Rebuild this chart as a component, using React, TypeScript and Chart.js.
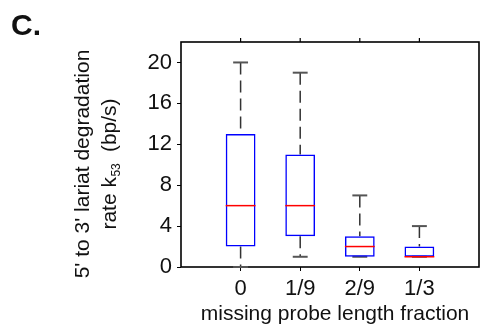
import React, { useEffect, useRef } from "react";
import { Chart, registerables } from "chart.js";

Chart.register(...registerables);

const categories = ["0", "1/9", "2/9", "1/3"];
const whiskerLow = [0, 1, 1, 1];
const q1 = [2, 3, 1, 1];
const median = [6, 6, 2, 1];
const q3 = [13, 11, 3, 2];
const whiskerHigh = [20, 19, 7, 4];
const yTicks = [0, 4, 8, 12, 16, 20];

const FONT = "'Liberation Sans', Arial, Helvetica, sans-serif";

const boxPlugin = {
  id: "boxExtras",
  beforeDatasetsDraw(chart: any) {
    const { ctx, chartArea: a, scales } = chart;
    const xs = scales.x;
    const ys = scales.y;
    ctx.save();
    // frame
    ctx.strokeStyle = "#000";
    ctx.lineWidth = 1.6;
    ctx.strokeRect(a.left, a.top, a.right - a.left, a.bottom - a.top);
    // top ticks
    ctx.lineWidth = 1.2;
    categories.forEach((_, i) => {
      const px = xs.getPixelForValue(i);
      ctx.beginPath();
      ctx.moveTo(px, a.top);
      ctx.lineTo(px, a.top - 4);
      ctx.stroke();
    });
    // whiskers
    ctx.strokeStyle = "#333";
    ctx.lineWidth = 1.5;
    ctx.setLineDash([12, 6]);
    categories.forEach((_, i) => {
      const px = xs.getPixelForValue(i);
      ctx.beginPath();
      ctx.moveTo(px, ys.getPixelForValue(whiskerHigh[i]));
      ctx.lineTo(px, ys.getPixelForValue(q3[i]));
      ctx.stroke();
      ctx.beginPath();
      ctx.moveTo(px, ys.getPixelForValue(q1[i]));
      ctx.lineTo(px, ys.getPixelForValue(whiskerLow[i]));
      ctx.stroke();
    });
    ctx.setLineDash([]);
    // caps
    ctx.strokeStyle = "#555";
    ctx.lineWidth = 2;
    categories.forEach((_, i) => {
      const l = xs.getPixelForValue(i - 0.125);
      const r = xs.getPixelForValue(i + 0.125);
      [whiskerLow[i], whiskerHigh[i]].forEach((v) => {
        const py = ys.getPixelForValue(v);
        ctx.beginPath();
        ctx.moveTo(l, py);
        ctx.lineTo(r, py);
        ctx.stroke();
      });
    });
    ctx.restore();
  },
  afterDatasetsDraw(chart: any) {
    const { ctx, scales } = chart;
    const xs = scales.x;
    const ys = scales.y;
    ctx.save();
    ctx.strokeStyle = "#ff0000";
    ctx.lineWidth = 1.5;
    categories.forEach((_, i) => {
      const l = xs.getPixelForValue(i - 0.25);
      const r = xs.getPixelForValue(i + 0.25);
      const py = ys.getPixelForValue(median[i]);
      ctx.beginPath();
      ctx.moveTo(l, py);
      ctx.lineTo(r, py);
      ctx.stroke();
    });
    ctx.restore();
  },
  afterDraw(chart: any) {
    const { ctx } = chart;
    ctx.save();
    ctx.fillStyle = "#111";
    // panel label
    ctx.font = `bold 30px ${FONT}`;
    ctx.textAlign = "left";
    ctx.textBaseline = "alphabetic";
    ctx.fillText("C.", 11, 35);
    // x title
    ctx.font = `21px ${FONT}`;
    ctx.textAlign = "center";
    ctx.fillText("missing probe length fraction", 335, 320);
    // y title
    ctx.translate(0, 164);
    ctx.rotate(-Math.PI / 2);
    ctx.textAlign = "center";
    ctx.fillText("5' to 3' lariat degradation", 0, 89);
    const p1 = "rate k";
    const sub = "53";
    const p2 = "  (bp/s)";
    ctx.font = `21px ${FONT}`;
    const w1 = ctx.measureText(p1).width;
    const w3 = ctx.measureText(p2).width;
    ctx.font = `12px ${FONT}`;
    const w2 = ctx.measureText(sub).width;
    const total = w1 + w2 + w3;
    const x0 = -total / 2;
    ctx.textAlign = "left";
    ctx.font = `21px ${FONT}`;
    ctx.fillText(p1, x0, 116);
    ctx.font = `12px ${FONT}`;
    ctx.fillText(sub, x0 + w1 + 0.5, 120);
    ctx.font = `21px ${FONT}`;
    ctx.fillText(p2, x0 + w1 + w2, 116);
    ctx.restore();
  },
};

export default function App() {
  const ref = useRef<HTMLCanvasElement>(null);
  useEffect(() => {
    if (!ref.current) return;
    const chart = new Chart(ref.current, {
      type: "bar",
      data: {
        datasets: [
          {
            data: categories.map((_, i) => ({ x: i, y: [q1[i], q3[i]] })) as any,
            backgroundColor: "rgba(0,0,0,0)",
            borderColor: "#0000ff",
            borderWidth: 1.5,
            borderSkipped: false,
            barPercentage: 0.5,
            categoryPercentage: 1,
          },
        ],
      },
      options: {
        animation: false,
        responsive: false,
        layout: { padding: { top: 42, right: 1, left: 0, bottom: 0 } },
        plugins: { legend: { display: false }, tooltip: { enabled: false } },
        scales: {
          x: {
            type: "linear",
            min: -1,
            max: 4,
            offset: false,
            afterBuildTicks: (s: any) => {
              s.ticks = categories.map((_, i) => ({ value: i }));
            },
            afterFit: (s: any) => {
              s.height = 59;
            },
            ticks: {
              callback: (v: any) => categories[v] ?? "",
              font: { size: 22, family: FONT },
              color: "#111",
              padding: 5,
              maxRotation: 0,
            },
            grid: {
              drawOnChartArea: false,
              drawTicks: true,
              tickLength: 4,
              color: "#000",
              offset: false,
            },
            border: { display: false },
          },
          y: {
            type: "linear",
            min: 0,
            max: 22,
            afterBuildTicks: (s: any) => {
              s.ticks = yTicks.map((v) => ({ value: v }));
            },
            afterFit: (s: any) => {
              s.width = 181;
            },
            ticks: {
              font: { size: 22, family: FONT },
              color: "#111",
              padding: 5,
            },
            grid: {
              drawOnChartArea: false,
              drawTicks: true,
              tickLength: 4,
              color: "#000",
            },
            border: { display: false },
          },
        },
      },
      plugins: [boxPlugin],
    });
    return () => chart.destroy();
  }, []);
  return (
    <div style={{ position: "absolute", left: 0, top: 0, width: 480, height: 326 }}>
      <canvas ref={ref} width={480} height={326} />
    </div>
  );
}
